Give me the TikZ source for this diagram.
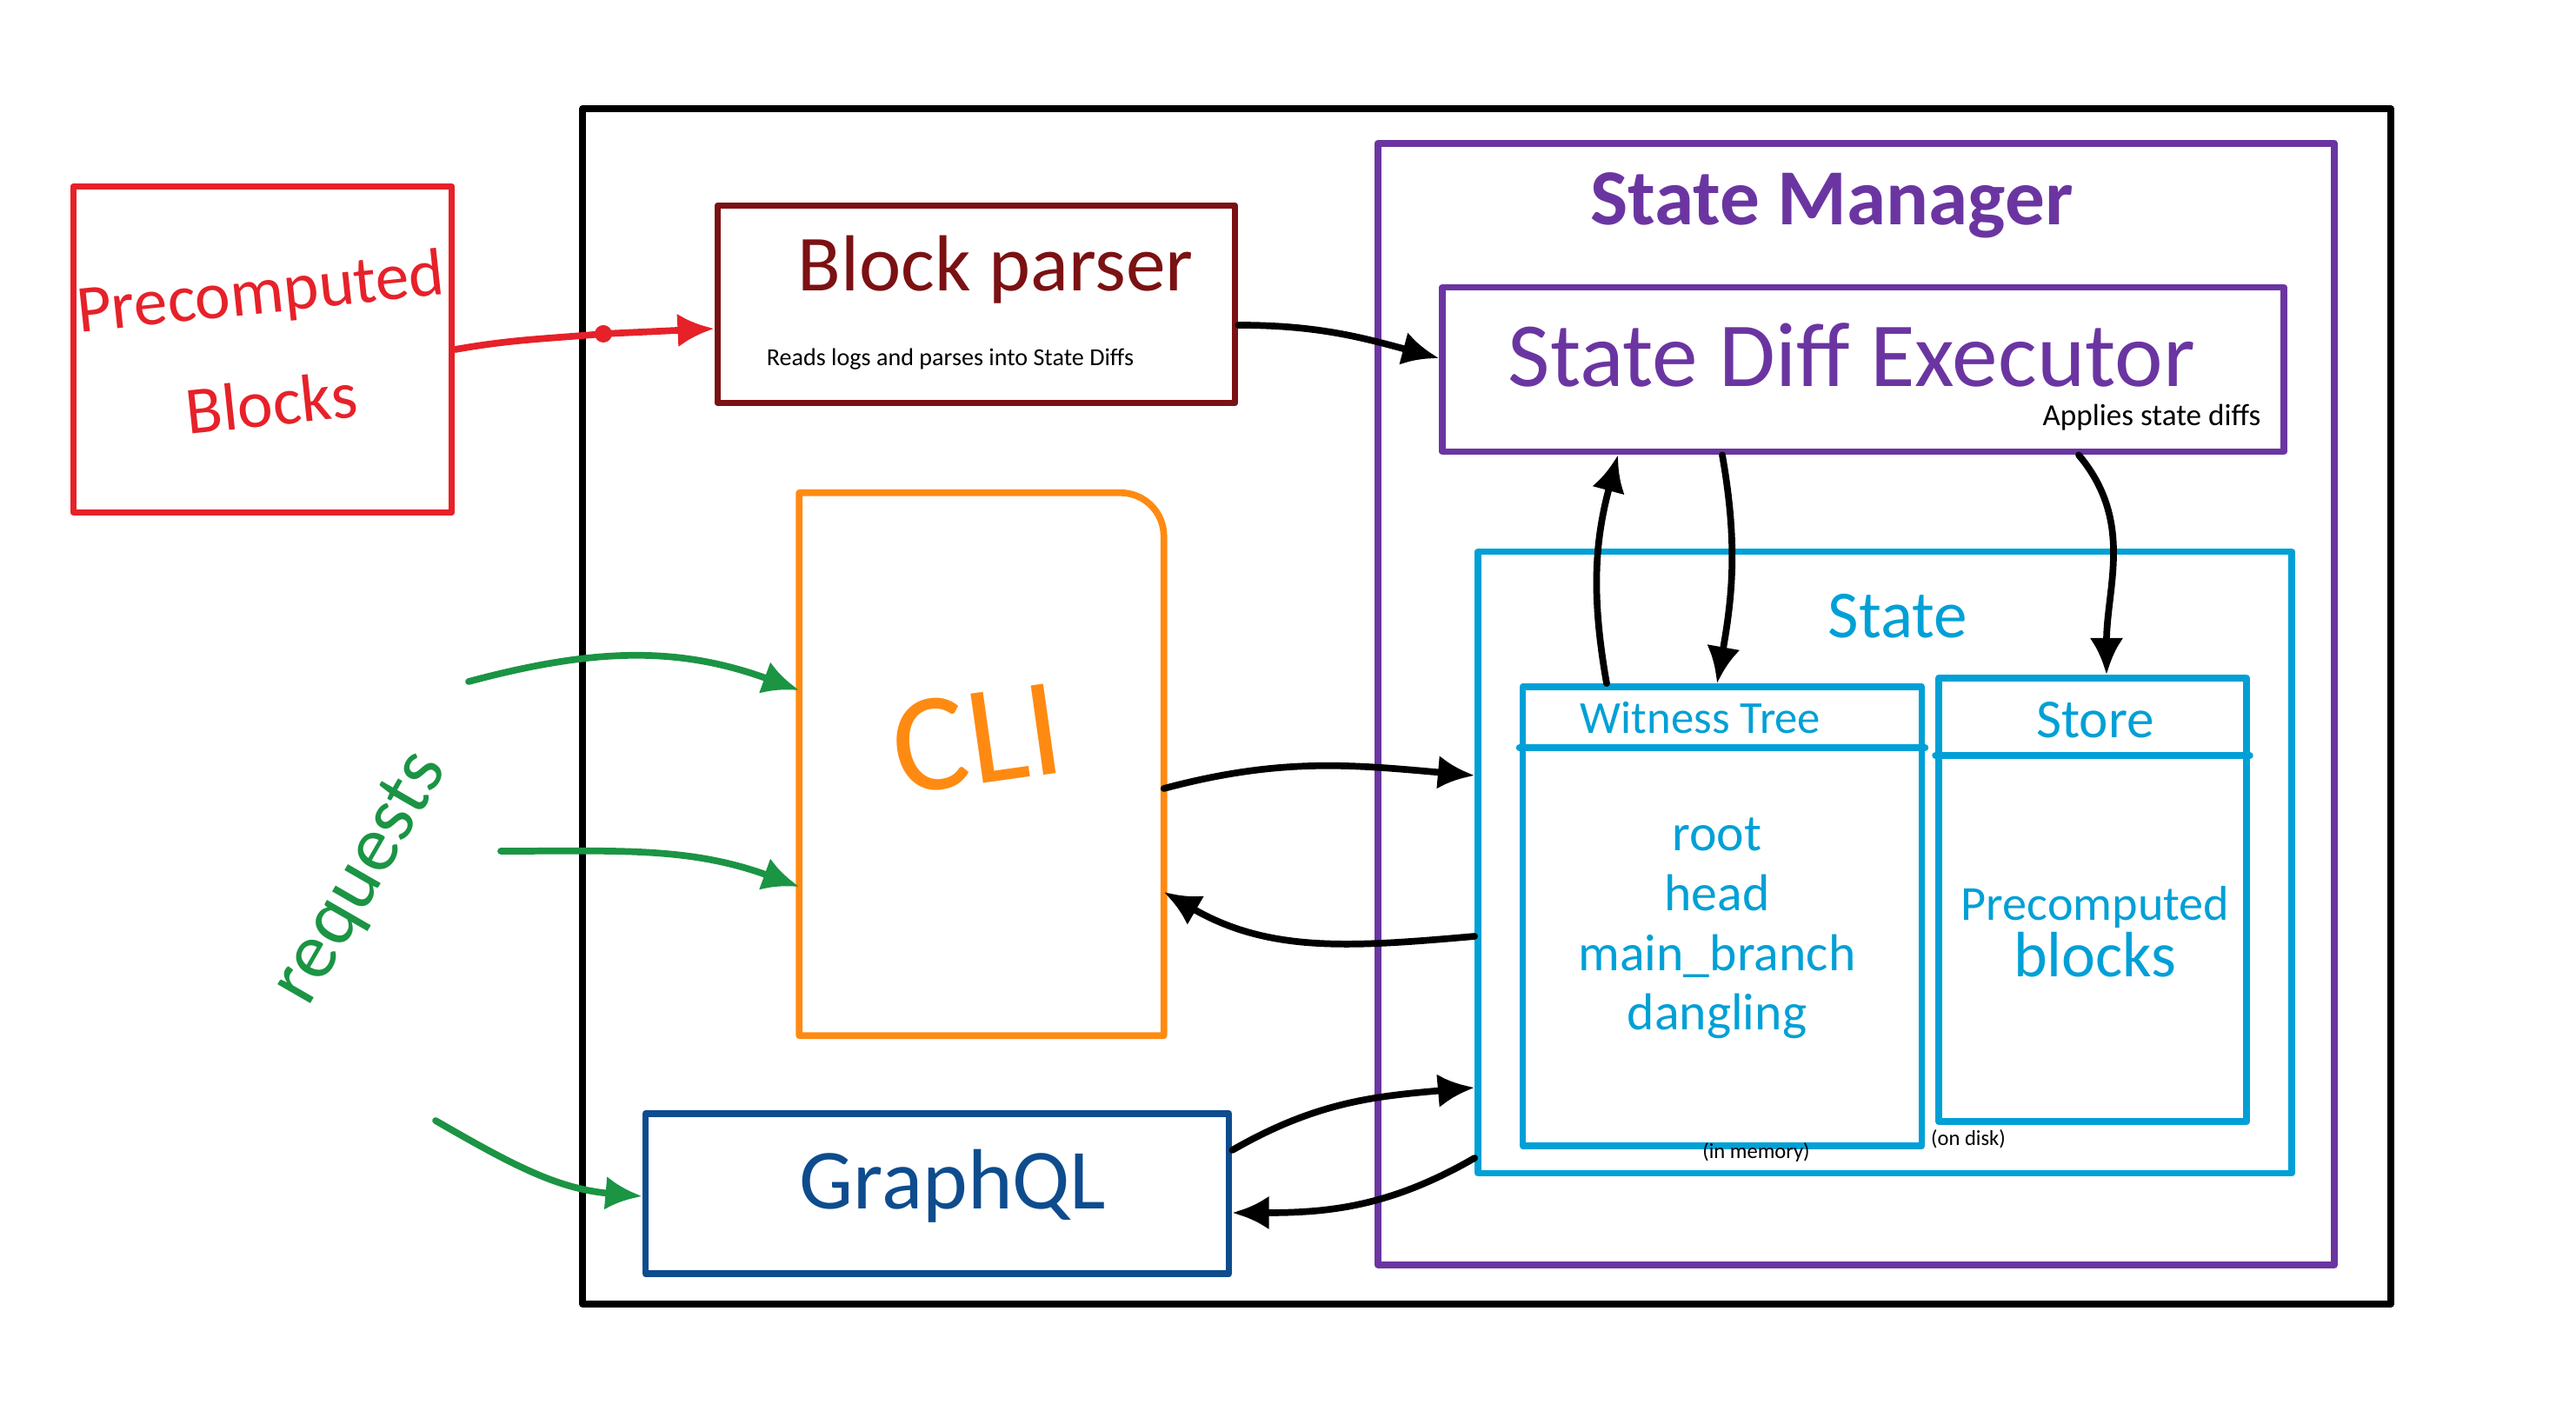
\documentclass[tikz,border=0pt]{standalone}
\usepackage{fontspec}
\setmainfont{Carlito}
\usetikzlibrary{arrows.meta, positioning}
\definecolor{pcred}{HTML}{E62129}
\definecolor{bpred}{HTML}{7B1113}
\definecolor{smpurple}{HTML}{6B35A1}
\definecolor{stblue}{HTML}{00A0D6}
\definecolor{cliorange}{HTML}{FF8A12}
\definecolor{gqblue}{HTML}{0E4C8E}
\definecolor{reqgreen}{HTML}{1B9444}
\tikzset{
  hand/.style={line width=2.2pt, line cap=round, line join=round},
  box/.style={hand, draw, inner sep=0pt},
  arr/.style={hand, -{Latex[length=12pt,width=11pt]}},
}
\newcommand{\fsz}[1]{\fontsize{#1}{1.15\dimexpr#1pt\relax}\selectfont}

\begin{document}
\begin{tikzpicture}
\useasboundingbox (0,0) rectangle (29.63,-16.23);
% containers
\node[box, minimum width=20.8cm, minimum height=13.75cm] (outer) at (17.1,-8.125) {};
\node[box, draw=smpurple, minimum width=11cm, minimum height=12.9cm] (manager) at (21.35,-8.1) {};
\node[text=smpurple, font=\fsz{26}\bfseries] (managertitle) at (21.07,-2.36) {State Manager};
% precomputed blocks
\node[box, draw=pcred, minimum width=4.35cm, minimum height=3.75cm] (precomp) at (3.02,-4.02) {};
\node[text=pcred, font=\fsz{22}, rotate=6, inner sep=1pt] (precomptext) at (3.0,-3.4) {Precomputed};
\node[text=pcred, font=\fsz{22}, rotate=6, inner sep=1pt] (blockstext) at (3.12,-4.63) {Blocks};
% block parser
\node[box, draw=bpred, minimum width=5.95cm, minimum height=2.27cm] (bparser) at (11.23,-3.5) {};
\node[text=bpred, font=\fsz{26}] (bparsertitle) at (11.45,-3.1) {Block parser};
\node[font=\fsz{8}] (bparsersub) at (10.93,-4.13) {Reads logs and parses into State Diffs};
% state diff executor
\node[box, draw=smpurple, minimum width=9.68cm, minimum height=1.89cm] (executor) at (21.43,-4.25) {};
\node[text=smpurple, font=\fsz{30}] (executortitle) at (21.3,-4.08) {State Diff Executor};
\node[font=\fsz{10}] (executorsub) at (24.75,-4.8) {Applies state diffs};
% state
\node[box, draw=stblue, minimum width=9.36cm, minimum height=7.15cm] (state) at (21.68,-9.92) {};
\node[text=stblue, font=\fsz{22}] (statetitle) at (21.83,-7.09) {State};
\node[box, draw=stblue, minimum width=4.59cm, minimum height=5.28cm] (witness) at (19.81,-10.54) {};
\draw[hand, stblue] ([yshift=-0.74cm]witness.north west) -- ([yshift=-0.74cm]witness.north east);
\node[text=stblue, font=\fsz{15}] (witnesstitle) at (19.56,-8.26) {Witness Tree};
\node[text=stblue, font=\fsz{17}, align=center] (witnessitems) at (19.75,-10.68) {root\\head\\main\_branch\\dangling};
\node[box, draw=stblue, minimum width=3.54cm, minimum height=5.1cm] (store) at (24.07,-10.35) {};
\draw[hand, stblue] ([yshift=-0.93cm]store.north west) -- ([yshift=-0.93cm]store.north east);
\node[text=stblue, font=\fsz{18}] (storetitle) at (24.1,-8.28) {Store};
\node[text=stblue, font=\fsz{16}, align=center] (storeitems) at (24.1,-10.72) {Precomputed\\{\fsz{21}blocks}};
\node[font=\fsz{7}] (inmemory) at (20.2,-13.25) {(in memory)};
\node[font=\fsz{7}] (ondisk) at (22.64,-13.1) {(on disk)};
% CLI
\node[minimum width=4.18cm, minimum height=6.23cm] (cli) at (11.29,-8.79) {};
\draw[hand, cliorange] (cli.north west) -- ([xshift=-0.5cm]cli.north east) to[out=0,in=90] ([yshift=-0.5cm]cli.north east) -- (cli.south east) -- (cli.south west) -- cycle;
\node[text=cliorange, font=\fsz{46}, rotate=8] (clitext) at (11.24,-8.5) {CLI};
% GraphQL
\node[box, draw=gqblue, minimum width=6.71cm, minimum height=1.84cm] (graphql) at (10.78,-13.73) {};
\node[text=gqblue, font=\fsz{28}] (graphqltext) at (10.96,-13.64) {GraphQL};
% requests
\node[text=reqgreen, font=\fsz{26}, rotate=60] (requests) at (4.16,-10.11) {requests};
\coordinate (req1) at (5.39,-7.84);
\coordinate (req2) at (5.76,-9.79);
\coordinate (req3) at (5.01,-12.89);
\coordinate (pdot) at (6.94,-3.84);
% arrows
\draw[arr, pcred] (precomp.east) to[out=10,in=185] (pdot) -- ([yshift=-0.28cm]bparser.west);
\fill[pcred] (pdot) circle (0.1);
\draw[arr] ([yshift=-0.24cm]bparser.east) to[out=0,in=165] ([yshift=0.13cm]executor.west);
\draw[arr] ([xshift=-1.33cm]witness.north) to[out=100,in=-105] ([xshift=-2.82cm]executor.south);
\draw[arr] ([xshift=-1.62cm]executor.south) to[out=-80,in=80] ([xshift=-0.06cm]witness.north);
\draw[arr] ([xshift=2.48cm]executor.south) to[out=-50,in=90] ([xshift=0.16cm]store.north);
\draw[arr] ([yshift=-0.28cm]cli.east) to[out=15,in=175] ([yshift=1.0cm]state.west);
\draw[arr] ([yshift=-0.85cm]state.west) to[out=185,in=-30] ([yshift=-1.47cm]cli.east);
\draw[arr] ([yshift=0.5cm]graphql.east) to[out=30,in=185] ([yshift=-2.59cm]state.west);
\draw[arr] ([yshift=-3.4cm]state.west) to[out=210,in=0] ([yshift=-0.22cm]graphql.east);
\draw[arr, reqgreen] (req1) to[out=15,in=160] ([yshift=0.85cm]cli.west);
\draw[arr, reqgreen] (req2) to[out=0,in=160] ([yshift=-1.41cm]cli.west);
\draw[arr, reqgreen] (req3) to[out=-30,in=175] ([yshift=-0.03cm]graphql.west);
\end{tikzpicture}
\end{document}
